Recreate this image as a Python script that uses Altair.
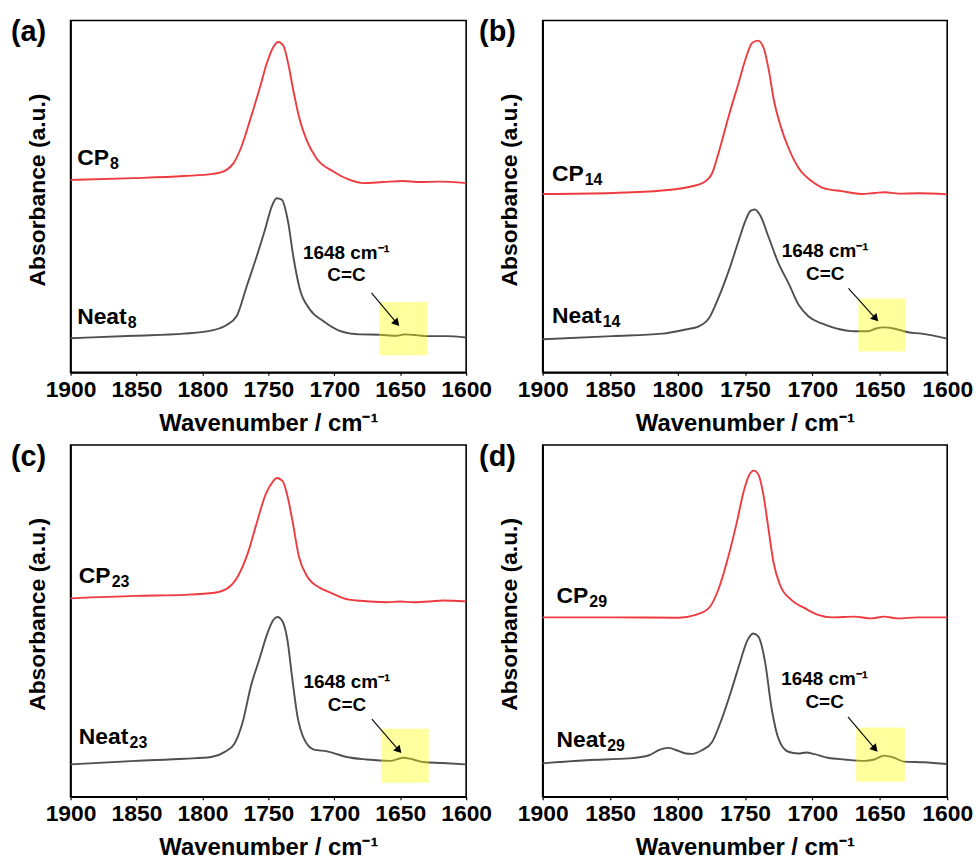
import altair as alt
import pandas as pd

# ---------------- data ----------------
# Panel (a)
A_CP_W = [1900, 1852, 1814, 1792, 1782, 1776.5, 1771.4, 1763.9, 1756.3, 1751.3, 1746.2, 1742.4, 1738.7,
          1734.9, 1731.1, 1726.1, 1721.0, 1713.4, 1700.8, 1688.2, 1678.2, 1663.0, 1647.9, 1635.3, 1620.2, 1600]
A_CP_V = [0.547, 0.552, 0.558, 0.564, 0.575, 0.594, 0.632, 0.717, 0.811, 0.877, 0.925, 0.939, 0.929,
          0.877, 0.802, 0.717, 0.660, 0.608, 0.571, 0.547, 0.538, 0.541, 0.544, 0.541, 0.542, 0.538]
A_NEAT_W = [1900, 1852, 1814, 1792, 1782, 1774, 1766.4, 1758.8, 1752.5, 1747.4, 1743.7, 1739.9, 1734.9,
            1731.1, 1726.1, 1718.5, 1708.4, 1695.8, 1680.7, 1665.5, 1653, 1646.6, 1637.8, 1630.3, 1615.1, 1600]
A_NEAT_V = [0.097, 0.104, 0.110, 0.120, 0.134, 0.160, 0.245, 0.330, 0.406, 0.472, 0.495, 0.491, 0.425,
            0.330, 0.236, 0.179, 0.146, 0.118, 0.108, 0.107, 0.104, 0.108, 0.106, 0.103, 0.103, 0.099]

# Panel (b)
B_CP_W = [1900, 1848.2, 1811.3, 1789.1, 1779.2, 1774.3, 1769.3, 1761.9, 1754.6, 1749.6, 1744.7, 1740.3, 1736.1,
          1732.4, 1728.7, 1723.7, 1717.6, 1710.2, 1700.3, 1690.5, 1678.2, 1663.4, 1653.5, 1646.1, 1636.2, 1621.5, 1600]
B_CP_V = [0.507, 0.510, 0.517, 0.529, 0.543, 0.566, 0.627, 0.730, 0.824, 0.890, 0.936, 0.943, 0.922,
          0.861, 0.777, 0.702, 0.637, 0.581, 0.543, 0.522, 0.515, 0.507, 0.510, 0.512, 0.508, 0.509, 0.506]
B_NEAT_W = [1900, 1848.2, 1811.3, 1794.0, 1784.2, 1776.7, 1769.3, 1761.9, 1754.6, 1749.6, 1745.9, 1742.7, 1738.5,
            1732.4, 1725.0, 1717.6, 1710.2, 1702.8, 1693.0, 1683.1, 1668.3, 1658.4, 1653.5, 1646.1, 1638.8,
            1628.9, 1619.0, 1600]
B_NEAT_V = [0.094, 0.103, 0.110, 0.122, 0.131, 0.154, 0.215, 0.290, 0.375, 0.431, 0.459, 0.463, 0.445,
            0.384, 0.309, 0.253, 0.192, 0.159, 0.139, 0.126, 0.117, 0.117, 0.124, 0.128, 0.124,
            0.114, 0.110, 0.096]

# Panel (c)
C_CP_W = [1900, 1851.0, 1813.4, 1790.8, 1780.8, 1773.2, 1765.7, 1758.2, 1751.9, 1746.9, 1743.6, 1739.3, 1735.6,
          1731.8, 1726.8, 1720.5, 1710.5, 1702.9, 1692.9, 1680.3, 1660.3, 1650.2, 1640.2, 1627.6, 1617.6, 1600]
C_CP_V = [0.564, 0.571, 0.574, 0.580, 0.593, 0.626, 0.691, 0.786, 0.861, 0.894, 0.906, 0.898, 0.856,
          0.786, 0.682, 0.626, 0.593, 0.580, 0.564, 0.557, 0.553, 0.555, 0.553, 0.555, 0.558, 0.555]
C_NEAT_W = [1900, 1851.0, 1813.4, 1793.3, 1783.3, 1775.7, 1769.5, 1763.2, 1756.9, 1750.6, 1746.1, 1743.1, 1739.3,
            1735.6, 1731.8, 1728.0, 1723.0, 1715.5, 1705.5, 1700.5, 1690.5, 1675.4, 1657.8, 1647.7, 1640.2,
            1632.6, 1617.6, 1600]
C_NEAT_V = [0.092, 0.102, 0.108, 0.113, 0.127, 0.151, 0.212, 0.315, 0.390, 0.466, 0.503, 0.511, 0.499,
            0.447, 0.334, 0.230, 0.165, 0.134, 0.129, 0.124, 0.113, 0.106, 0.102, 0.111, 0.106,
            0.099, 0.096, 0.092]

# Panel (d)
D_CP_W = [1900, 1848.0, 1798.9, 1786.6, 1776.8, 1769.4, 1762.0, 1755.9, 1751.0, 1746.8, 1743.4, 1739.9, 1736.3,
          1732.6, 1728.9, 1724.0, 1715.4, 1705.6, 1695.7, 1685.9, 1668.7, 1656.5, 1646.7, 1636.8, 1622.1, 1600]
D_CP_V = [0.510, 0.510, 0.509, 0.517, 0.536, 0.592, 0.687, 0.782, 0.867, 0.915, 0.927, 0.915, 0.858,
          0.763, 0.668, 0.602, 0.559, 0.536, 0.517, 0.510, 0.512, 0.507, 0.512, 0.507, 0.510, 0.510]
D_NEAT_W = [1900, 1867.6, 1835.7, 1821.0, 1813.6, 1807.0, 1801.3, 1793.9, 1789.1, 1781.7, 1774.3, 1767.0, 1759.6,
            1753.5, 1748.6, 1743.7, 1740.0, 1735.1, 1730.2, 1725.2, 1717.9, 1710.5, 1704.4, 1698.2, 1688.4,
            1676.2, 1661.4, 1654.1, 1646.7, 1639.4, 1632.0, 1617.3, 1600]
D_NEAT_V = [0.095, 0.104, 0.109, 0.118, 0.133, 0.139, 0.133, 0.123, 0.122, 0.133, 0.156, 0.223, 0.308,
            0.384, 0.441, 0.464, 0.455, 0.384, 0.251, 0.166, 0.128, 0.123, 0.126, 0.121, 0.111,
            0.106, 0.102, 0.106, 0.117, 0.111, 0.100, 0.098, 0.093]

PANEL_LETTERS = ["(a)", "(b)", "(c)", "(d)"]
SUBSCRIPTS = ["8", "14", "23", "29"]
X_TICKS = list(range(1600, 1901, 25))

# highlight boxes: [w_left, w_right, v_bottom, v_top]
HIGHLIGHTS = [[1666.0, 1629.7, 0.049, 0.200],
              [1665.8, 1630.8, 0.059, 0.210],
              [1664.5, 1628.4, 0.040, 0.193],
              [1667.5, 1631.4, 0.043, 0.197]]
# annotation: [w_center, v_line1, v_line2]
ANNOT = [[1690.8, 0.321, 0.259],
         [1690.5, 0.328, 0.262],
         [1690.4, 0.310, 0.245],
         [1690.9, 0.318, 0.251]]
# arrows: [w_start, v_start, w_end, v_end]
ARROWS = [[1671.8, 0.226, 1652.6, 0.140],
          [1673.2, 0.239, 1653.0, 0.153],
          [1671.5, 0.221, 1651.0, 0.132],
          [1673.6, 0.227, 1653.5, 0.136]]
# series labels: [w_left, v_cp_baseline, v_neat_baseline]
LABELS = [[1895.0, 0.590, 0.137],
          [1893.1, 0.543, 0.140],
          [1893.7, 0.607, 0.150],
          [1889.7, 0.550, 0.142]]

RED = "#ee3b40"
GRAY = "#4f4f4f"
FONT = "Liberation Sans"
WIDTHS = [398, 407, 398, 407]
HEIGHT = 354
LETTER_DX = [-60, -64, -60, -64]


def panel(i, cp_w, cp_v, neat_w, neat_v):
    df = pd.concat([
        pd.DataFrame({"w": cp_w, "v": cp_v, "s": "CP"}),
        pd.DataFrame({"w": neat_w, "v": neat_v, "s": "Neat"}),
    ])
    x_scale = alt.Scale(domain=[1600, 1900], reverse=True, nice=False, zero=False)
    y_scale = alt.Scale(domain=[0, 1], nice=False, zero=False)
    x_axis = alt.Axis(values=X_TICKS, format="d",
                      labelExpr="datum.value % 50 === 0 ? datum.label : ''",
                      title="Wavenumber / cm\u207b\u00b9", grid=False,
                      labelFlush=False, labelOverlap=False)
    y_axis = alt.Axis(title="Absorbance (a.u.)", labels=False, ticks=False, grid=False)

    lines = alt.Chart(df).mark_line(interpolate="monotone", strokeWidth=1.9).encode(
        x=alt.X("w:Q", scale=x_scale, axis=x_axis),
        y=alt.Y("v:Q", scale=y_scale, axis=y_axis),
        color=alt.Color("s:N", scale=alt.Scale(domain=["CP", "Neat"], range=[RED, GRAY]), legend=None),
    )

    h = HIGHLIGHTS[i]
    rect = alt.Chart(pd.DataFrame({"x": [h[0]], "x2": [h[1]], "y": [h[2]], "y2": [h[3]]})).mark_rect(
        color="#ffff00", opacity=0.38).encode(
        x=alt.X("x:Q", scale=x_scale), x2="x2:Q",
        y=alt.Y("y:Q", scale=y_scale), y2="y2:Q")

    a = ANNOT[i]
    ann = alt.Chart(pd.DataFrame({"x": [a[0], a[0]], "y": [a[1], a[2]],
                                  "t": ["1648 cm\u207b\u00b9", "C=C"]})).mark_text(
        font=FONT, fontSize=19, fontWeight="bold", align="center", baseline="alphabetic", color="black").encode(
        x=alt.X("x:Q", scale=x_scale), y=alt.Y("y:Q", scale=y_scale), text="t:N")

    ar = ARROWS[i]
    arrow_line = alt.Chart(pd.DataFrame({"x": [ar[0]], "y": [ar[1]], "x2": [ar[2]], "y2": [ar[3]]})).mark_rule(
        color="black", strokeWidth=1.1).encode(
        x=alt.X("x:Q", scale=x_scale), y=alt.Y("y:Q", scale=y_scale), x2="x2:Q", y2="y2:Q")
    arrow_head = alt.Chart(pd.DataFrame({"x": [ar[2]], "y": [ar[3]]})).mark_point(
        shape="triangle-up", filled=True, color="black", opacity=1, size=75, angle=138).encode(
        x=alt.X("x:Q", scale=x_scale), y=alt.Y("y:Q", scale=y_scale))

    lb = LABELS[i]
    ldf = pd.DataFrame({"x": [lb[0], lb[0]], "y": [lb[1], lb[2]], "t": ["CP", "Neat"]})
    main_lab = alt.Chart(ldf).mark_text(font=FONT, fontSize=23, fontWeight="bold", align="left",
                                        baseline="alphabetic", color="black").encode(
        x=alt.X("x:Q", scale=x_scale), y=alt.Y("y:Q", scale=y_scale), text="t:N")
    sub_cp = alt.Chart(pd.DataFrame({"x": [lb[0]], "y": [lb[1]], "t": [SUBSCRIPTS[i]]})).mark_text(
        font=FONT, fontSize=16, fontWeight="bold", align="left", baseline="alphabetic",
        color="black", dx=33, dy=4).encode(
        x=alt.X("x:Q", scale=x_scale), y=alt.Y("y:Q", scale=y_scale), text="t:N")
    sub_neat = alt.Chart(pd.DataFrame({"x": [lb[0]], "y": [lb[2]], "t": [SUBSCRIPTS[i]]})).mark_text(
        font=FONT, fontSize=16, fontWeight="bold", align="left", baseline="alphabetic",
        color="black", dx=51, dy=4).encode(
        x=alt.X("x:Q", scale=x_scale), y=alt.Y("y:Q", scale=y_scale), text="t:N")

    letter = alt.Chart(pd.DataFrame({"t": [PANEL_LETTERS[i]]})).mark_text(
        font=FONT, fontSize=29, fontWeight="bold", align="left", baseline="top", color="black").encode(
        x=alt.value(LETTER_DX[i]), y=alt.value(-2), text="t:N")

    return alt.layer(lines, rect, arrow_line, arrow_head, ann, main_lab, sub_cp, sub_neat, letter).properties(
        width=WIDTHS[i], height=HEIGHT)


charts = [
    panel(0, A_CP_W, A_CP_V, A_NEAT_W, A_NEAT_V),
    panel(1, B_CP_W, B_CP_V, B_NEAT_W, B_NEAT_V),
    panel(2, C_CP_W, C_CP_V, C_NEAT_W, C_NEAT_V),
    panel(3, D_CP_W, D_CP_V, D_NEAT_W, D_NEAT_V),
]

chart = alt.concat(*charts, columns=2, spacing={"row": 73, "column": 77}, bounds="flush", align="each",
                   padding={"left": 10, "top": 15, "right": 5, "bottom": 5}).configure(
    font=FONT,
    background="white",
).configure_view(
    stroke="black", strokeWidth=1.6,
).configure_axis(
    labelFont=FONT, labelFontSize=23, labelFontWeight="bold", labelColor="black",
    titleFont=FONT, titleFontSize=24, titleFontWeight="bold", titleColor="black",
    domainColor="black", domainWidth=1.6, tickColor="black", tickWidth=1.2, tickSize=3,
    labelPadding=3,
).configure_axisX(
    titlePadding=10,
).configure_axisY(
    titleFontSize=23, titlePadding=21, titleY=170,
)

chart.save("out.html", embed_options={"renderer": "svg", "actions": False})
